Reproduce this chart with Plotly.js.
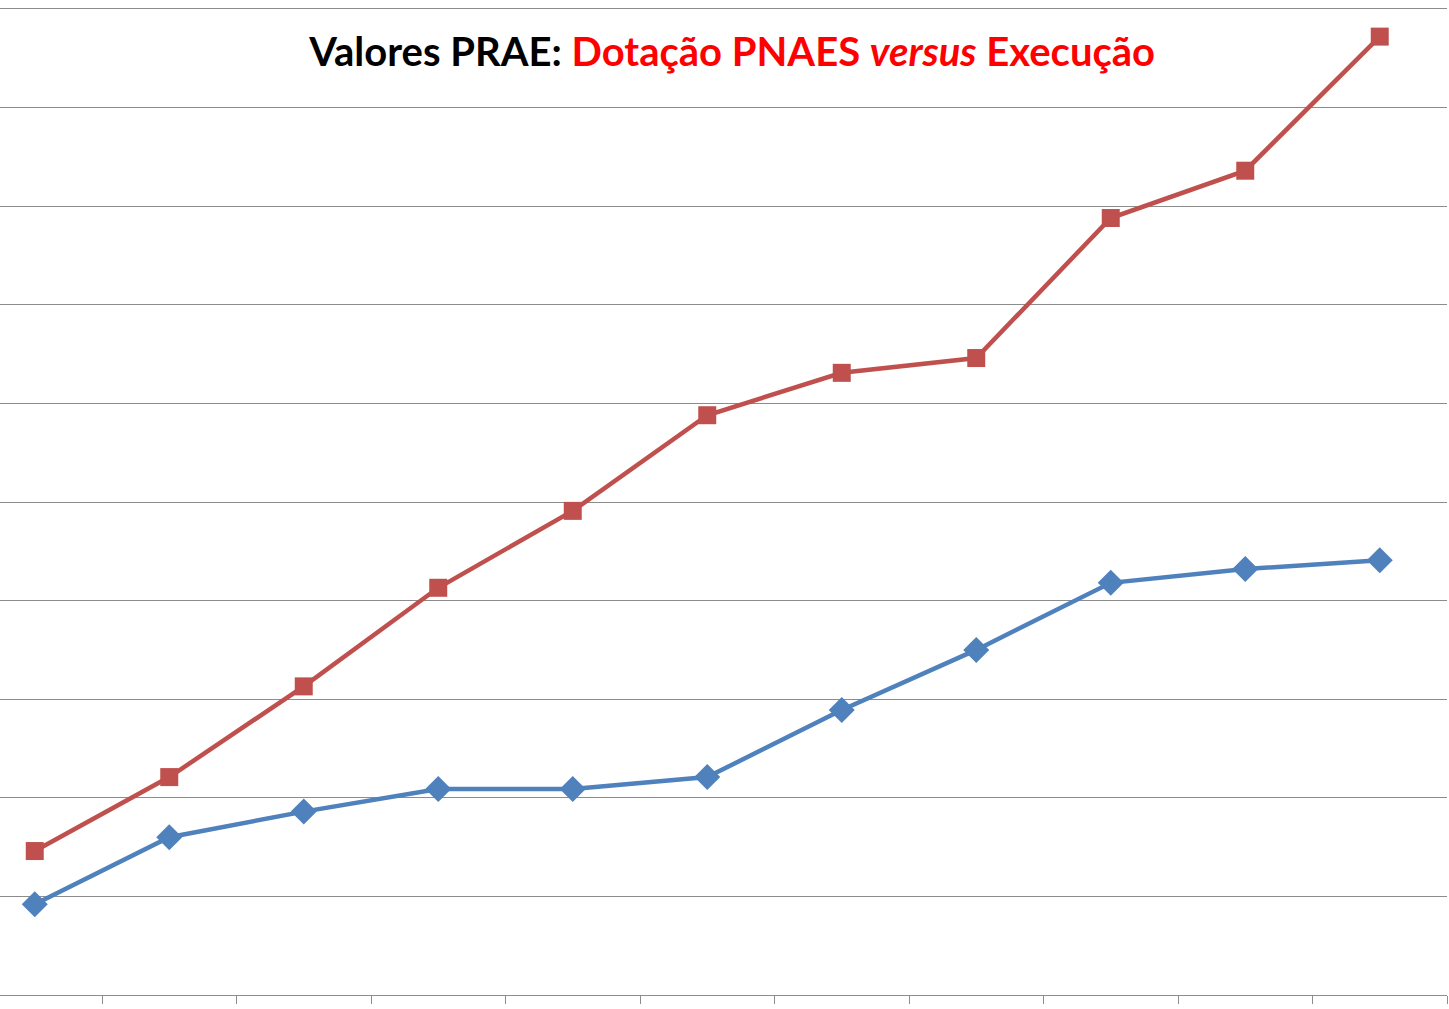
<!DOCTYPE html>
<html>
<head>
<meta charset="utf-8">
<script src="https://cdn.plot.ly/plotly-3.0.1.min.js"></script>
<style>html,body{margin:0;padding:0;background:#fff;}#chart{width:1449px;height:1009px;}</style>
</head>
<body>
<div id="chart"></div>
<script>
// Categories (years, labels not shown in the reference crop)
const categories = [0, 1, 2, 3, 4, 5, 6, 7, 8, 9, 10];
// Dotação PNAES (red)
const dotacao = [1.46, 2.21, 3.13, 4.13, 4.91, 5.88, 6.31, 6.46, 7.88, 8.36, 9.72];
// Execução (blue)
const execucao = [0.92, 1.60, 1.86, 2.09, 2.09, 2.21, 2.89, 3.50, 4.18, 4.32, 4.41];
const tickBoundaries = [0.5, 1.5, 2.5, 3.5, 4.5, 5.5, 6.5, 7.5, 8.5, 9.5, 10.5];

const traces = [
  {
    x: categories, y: execucao, type: 'scatter', mode: 'lines+markers', name: 'Execução',
    line: {color: '#4F81BD', width: 4.5},
    marker: {symbol: 'diamond', size: 20, color: '#4F81BD'},
    cliponaxis: false
  },
  {
    x: categories, y: dotacao, type: 'scatter', mode: 'lines+markers', name: 'Dotação PNAES',
    line: {color: '#C0504D', width: 4.5},
    marker: {symbol: 'square', size: 18, color: '#C0504D'},
    cliponaxis: false
  }
];

const layout = {
  width: 1449, height: 1009,
  margin: {l: 0, r: 2, t: 9, b: 14, pad: 0},
  paper_bgcolor: '#ffffff', plot_bgcolor: '#ffffff',
  showlegend: false,
  title: {
    text: "<b>Valores PRAE: <span style='color:#FF0000'>Dotação PNAES <i>versus</i> Execução</span></b>",
    font: {family: 'Lato, "Open Sans", sans-serif', size: 40, color: '#000000'},
    x: 0.506, xref: 'paper', xanchor: 'center',
    y: 1 - 52/1009, yref: 'container', yanchor: 'middle'
  },
  xaxis: {
    range: [-0.2584, 10.5],
    tickvals: tickBoundaries, showticklabels: false,
    ticks: 'outside', ticklen: 8, tickwidth: 1, tickcolor: '#8c8c8c',
    showgrid: false, zeroline: false,
    showline: true, mirror: true, linecolor: '#8c8c8c', linewidth: 1.2
  },
  yaxis: {
    range: [0, 10], dtick: 1, tick0: 0,
    showticklabels: false, ticks: '',
    showgrid: true, gridcolor: '#8c8c8c', gridwidth: 1,
    zeroline: false, showline: false
  }
};

Plotly.newPlot('chart', traces, layout, {displayModeBar: false, staticPlot: true});
</script>
</body>
</html>
